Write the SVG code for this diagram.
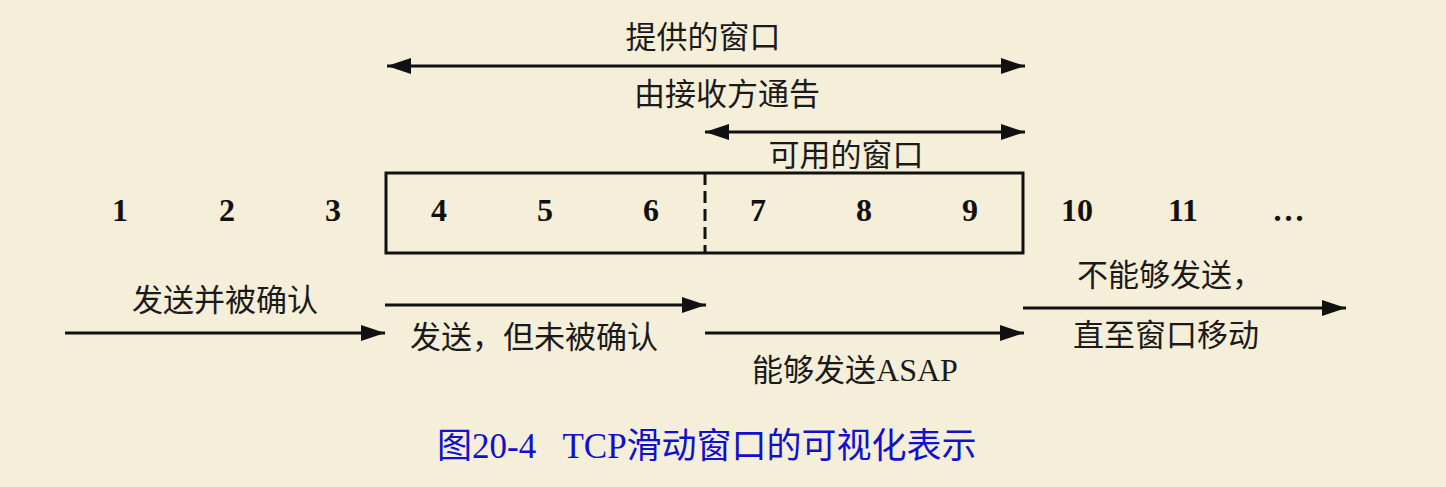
<svg xmlns="http://www.w3.org/2000/svg" width="1446" height="487" viewBox="0 0 1446 487">
<style>
.cjk{font-family:"Noto Sans CJK SC",sans-serif;font-size:31px;fill:#1a1a1a}
.num{font-family:"Liberation Serif",serif;font-weight:bold;font-size:32px;fill:#111;text-anchor:middle}
.ln{stroke:#111;stroke-width:3;fill:none}
.cap{font-family:"Liberation Serif","Noto Sans CJK SC",serif;font-size:35px;fill:#1010d0}
</style>
<defs>
<marker id="ah" markerUnits="userSpaceOnUse" markerWidth="26" markerHeight="18" refX="24" refY="8" orient="auto-start-reverse">
<path d="M0,0 L24,8 L0,16 Z" fill="#111"/>
</marker>
</defs>
<rect width="1446" height="487" fill="#f5eed8"/>
<g id="labels-top">
<text class="cjk" x="703" y="48" text-anchor="middle">提供的窗口</text>
<text class="cjk" x="727" y="105" text-anchor="middle">由接收方通告</text>
<text class="cjk" x="846" y="166" text-anchor="middle">可用的窗口</text>
</g>
<g id="window-box">
<rect x="386" y="173" width="637" height="80" class="ln"/>
<line x1="705" y1="173" x2="705" y2="253" class="ln" stroke-dasharray="12,6"/>
</g>
<g id="numbers">
<text class="num" x="120" y="221">1</text>
<text class="num" x="227" y="221">2</text>
<text class="num" x="333" y="221">3</text>
<text class="num" x="439" y="221">4</text>
<text class="num" x="545" y="221">5</text>
<text class="num" x="651" y="221">6</text>
<text class="num" x="758" y="221">7</text>
<text class="num" x="864" y="221">8</text>
<text class="num" x="970" y="221">9</text>
<text class="num" x="1077" y="221">10</text>
<text class="num" x="1183" y="221">11</text>
<text class="num" x="1290" y="221" letter-spacing="3">...</text>
</g>
<g id="connectors">
<line x1="387" y1="66" x2="1025" y2="66" class="ln" marker-start="url(#ah)" marker-end="url(#ah)"/>
<line x1="705" y1="132" x2="1025" y2="132" class="ln" marker-start="url(#ah)" marker-end="url(#ah)"/>
<line x1="65" y1="333" x2="385" y2="333" class="ln" marker-end="url(#ah)"/>
<line x1="385" y1="305" x2="706" y2="305" class="ln" marker-end="url(#ah)"/>
<line x1="705" y1="333" x2="1024" y2="333" class="ln" marker-end="url(#ah)"/>
<line x1="1023" y1="308" x2="1346" y2="308" class="ln" marker-end="url(#ah)"/>
</g>
<g id="labels-bottom">
<text class="cjk" x="225" y="311" text-anchor="middle">发送并被确认</text>
<text class="cjk" x="534" y="348" text-anchor="middle">发送，但未被确认</text>
<text class="cjk" x="855" y="381" text-anchor="middle"><tspan>能够发送</tspan><tspan font-family="Liberation Serif" font-size="32">ASAP</tspan></text>
<text class="cjk" x="1170" y="286" text-anchor="middle">不能够发送，</text>
<text class="cjk" x="1166" y="346" text-anchor="middle">直至窗口移动</text>
</g>
<g id="caption">
<text class="cap" x="437" y="458" xml:space="preserve">图20-4   TCP滑动窗口的可视化表示</text>
</g>
</svg>
